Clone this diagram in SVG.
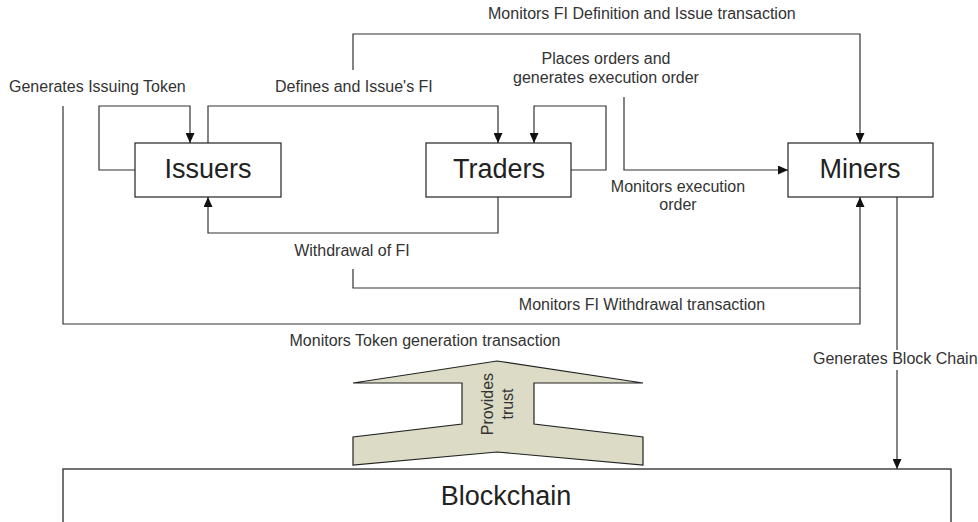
<svg xmlns="http://www.w3.org/2000/svg" width="978" height="522" viewBox="0 0 978 522">
<style>
.node{fill:#fff;stroke:#222;stroke-width:1.2}
.nl{font-family:"Liberation Sans",Arial,sans-serif;font-size:27px;fill:#222;text-anchor:middle}
.lb{font-family:"Liberation Sans",Arial,sans-serif;font-size:16px;fill:#333}
.c{fill:none;stroke:#333;stroke-width:1.2}
.m{text-anchor:middle}
</style>
<defs>
<marker id="ah" markerUnits="userSpaceOnUse" markerWidth="11" markerHeight="9" refX="10" refY="4.5" orient="auto">
<path d="M0,0 L10,4.5 L0,9 z" fill="#111"/>
</marker>
</defs>
<rect width="978" height="522" fill="#fff"/>
<g id="connectors">
<path class="c" d="M135,170 H99 V106 H190 V143" marker-end="url(#ah)"/>
<path class="c" d="M208,143 V106 H498 V143" marker-end="url(#ah)"/>
<path class="c" d="M571,170 H606 V106 H534 V143" marker-end="url(#ah)"/>
<path class="c" d="M353,70 V34 H860 V143" marker-end="url(#ah)"/>
<path class="c" d="M624,97 V170 H788" marker-end="url(#ah)"/>
<path class="c" d="M498,197 V233 H208 V197" marker-end="url(#ah)"/>
<path class="c" d="M353,269 V288 H860 V197" marker-end="url(#ah)"/>
<path class="c" d="M63,106 V324 H860 V288"/>
<path class="c" d="M897,197 V469" marker-end="url(#ah)"/>
</g>
<g id="labels">
<text class="lb" x="9" y="92">Generates Issuing Token</text>
<text class="lb" x="275" y="92">Defines and Issue's FI</text>
<text class="lb" x="488" y="19">Monitors FI Definition and Issue transaction</text>
<text class="lb m" x="606" y="64">Places orders and</text>
<text class="lb m" x="606" y="83">generates execution order</text>
<text class="lb m" x="678" y="192">Monitors execution</text>
<text class="lb m" x="678" y="210">order</text>
<text class="lb m" x="352" y="256">Withdrawal of FI</text>
<text class="lb m" x="642" y="310">Monitors FI Withdrawal transaction</text>
<text class="lb m" x="425" y="346">Monitors Token generation transaction</text>
<rect x="812" y="350" width="166" height="20" fill="#fff"/>
<text class="lb" x="813" y="364">Generates Block Chain</text>
</g>
<g id="issuers"><rect class="node" x="135" y="143" width="146" height="54"/><text class="nl" x="208" y="178">Issuers</text></g>
<g id="traders"><rect class="node" x="426" y="143" width="145" height="54"/><text class="nl" x="499" y="178">Traders</text></g>
<g id="miners"><rect class="node" x="788" y="143" width="145" height="54"/><text class="nl" x="860" y="178">Miners</text></g>
<g id="trust">
<polygon points="497,361 643,383 534,383 534,424 643,437 643,465 497,452 353,465 353,437 462,424 462,383 353,383" fill="#dcdcc6" stroke="#222" stroke-width="1.2"/>
<g transform="translate(497,404) rotate(-90)">
<text class="lb m" x="0" y="-4" fill="#333">Provides</text>
<text class="lb m" x="0" y="16" fill="#333">trust</text>
</g>
</g>
<g id="blockchain"><rect x="63" y="469" width="888" height="70" fill="#fff" stroke="#444" stroke-width="1.5"/><text class="nl" x="506" y="505">Blockchain</text></g>
</svg>
